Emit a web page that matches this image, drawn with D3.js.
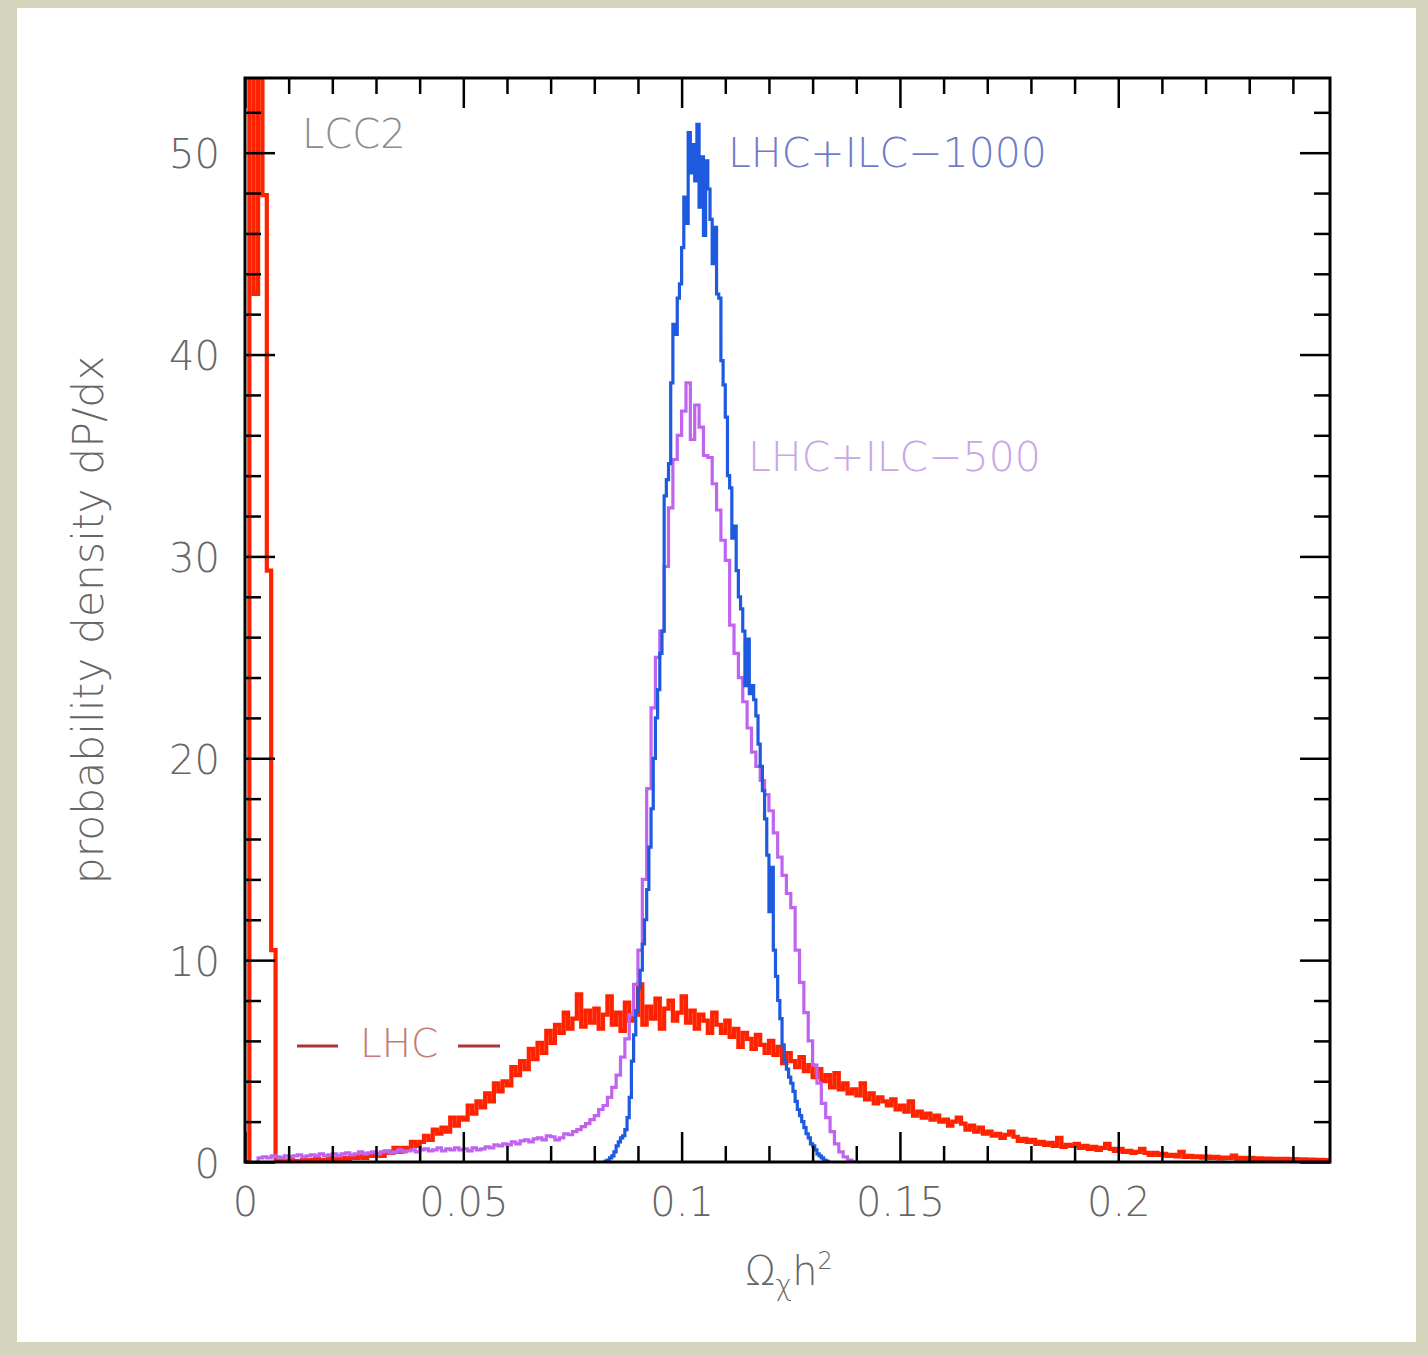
<!DOCTYPE html>
<html>
<head>
<meta charset="utf-8">
<title>LCC2 relic density</title>
<style>
  body { margin: 0; background: #d5d4bc; }
  text { font-family: "DejaVu Sans", sans-serif; }
  .tick line { stroke: #000; stroke-width: 2.5; }
  .tick text { fill: #666666; font-size: 40px; font-weight: 200; }
</style>
</head>
<body>
<svg id="chart" width="1428" height="1355"></svg>
<script src="https://d3js.org/d3.v7.min.js"></script>
<script>
// x ticks / labels
var xMajorTicks = [0, 0.05, 0.1, 0.15, 0.2];
var xTickLabels = ["0", "0.05", "0.1", "0.15", "0.2"];
var yMajorTicks = [0, 10, 20, 30, 40, 50];
var yTickLabels = ["0", "10", "20", "30", "40", "50"];

// LHC alone: bins of 0.001 starting at 0
var lhcStart = 0, lhcWidth = 0.001;
var lhcValues = [
  0, 75, 43, 68, 47.9, 29.3, 10.5,
  0, 0.05, 0, 0.1, 0.05, 0, 0.1, 0.05, 0.1, 0.15, 0.05, 0.1, 0.2, 0.1, 0.15, 0.2, 0.1, 0.25, 0.2, 0.3, 0.2, 0.35, 0.3,
  0.4, 0.3, 0.5, 0.45, 0.7, 0.5, 0.7, 0.65, 1.0, 0.8,
  1.0, 1.3, 1.1, 1.6, 1.4, 1.7, 1.5, 2.2, 1.8, 2.2,
  2.1, 2.8, 2.4, 3.0, 2.7, 3.4, 3.0, 3.9, 3.5, 4.0,
  3.8, 4.7, 4.3, 5.0, 4.6, 5.6, 5.1, 5.9, 5.4, 6.5,
  5.9, 6.8, 6.4, 7.4, 6.6, 7.1, 8.3, 6.7, 7.5, 6.9,
  7.6, 6.6, 7.3, 8.2, 6.8, 7.4, 6.5, 7.9, 7.0, 7.3,
  8.8, 6.8, 7.7, 7.1, 8.1, 6.6, 7.6, 8.0, 7.0, 7.4,
  8.2, 6.9, 7.5, 6.6, 7.3, 7.0, 6.4, 7.4, 6.8, 6.4,
  7.0, 6.2, 6.6, 5.7, 6.4, 6.1, 5.6, 6.3, 5.8, 5.4,
  6.0, 5.3, 5.7, 4.9, 5.4, 5.0, 4.7, 5.2, 4.5, 4.8,
  4.2, 4.6, 4.0, 4.3, 3.7, 4.4, 3.6, 3.9, 3.4, 3.6,
  3.3, 3.9, 3.1, 3.4, 2.9, 3.2, 3.0, 2.8, 3.1, 2.6,
  2.8, 2.5, 3.0, 2.3, 2.5, 2.2, 2.4, 2.1, 2.3, 2.0,
  2.1, 1.8, 2.0, 2.2, 1.9, 1.6, 1.8, 1.5, 1.7, 1.4,
  1.5, 1.3, 1.4, 1.2, 1.35, 1.5, 1.25, 1.05, 1.15, 1.0,
  1.1, 0.9, 1.0, 0.85, 0.95, 0.8, 1.2, 0.75, 0.85, 0.8,
  0.9, 0.7, 0.8, 0.65, 0.75, 0.6, 0.7, 0.9, 0.65, 0.55,
  0.65, 0.5, 0.55, 0.45, 0.5, 0.65, 0.45, 0.35, 0.45, 0.35,
  0.4, 0.3, 0.35, 0.28, 0.5, 0.25, 0.3, 0.24, 0.28, 0.22,
  0.27, 0.2, 0.25, 0.18, 0.22, 0.2, 0.32, 0.17, 0.2, 0.16,
  0.2, 0.15, 0.18, 0.14, 0.17, 0.13, 0.16, 0.12, 0.15, 0.11,
  0.14, 0.12, 0.13, 0.1, 0.12, 0.09, 0.11, 0.08, 0.1
];

// LHC+ILC-500: bins of 0.001 starting at 0.003
var ilc500Start = 0.003, ilc500Width = 0.001;
var ilc500Values = [
  0.2, 0.25, 0.2, 0.3, 0.25, 0.2, 0.3, 0.25, 0.3, 0.35,
  0.25, 0.3, 0.35, 0.3, 0.4, 0.3, 0.35, 0.4, 0.3, 0.4,
  0.45, 0.35, 0.4, 0.5, 0.4, 0.45, 0.5, 0.4, 0.5, 0.55,
  0.45, 0.5, 0.6, 0.5, 0.55, 0.6, 0.5, 0.6, 0.65, 0.55,
  0.6, 0.7, 0.55, 0.65, 0.6, 0.7, 0.6, 0.65, 0.55, 0.7,
  0.6, 0.65, 0.75, 0.7, 0.85, 0.8, 0.9, 0.85, 1.0, 0.9,
  1.05, 1.1, 1.0, 1.15, 1.2, 1.1, 1.3, 1.25, 1.1, 1.2,
  1.4, 1.35, 1.5, 1.6, 1.75, 1.9, 2.1, 2.3, 2.6, 2.8,
  3.2, 3.7, 4.3, 5.2, 6.1, 7.3, 8.8, 10.5, 14.0, 18.5,
  22.5, 25.0, 26.3, 29.5, 32.4, 34.8, 36.0, 37.2, 38.6, 35.8,
  37.5, 36.4, 35.0, 34.9, 33.6, 32.3, 30.8, 29.8, 26.6, 25.2,
  24.0, 22.8, 21.5, 20.3, 19.6, 18.9, 18.2, 17.4, 16.3, 15.1,
  14.2, 13.3, 12.6, 10.5, 8.9, 7.4, 6.0, 4.8, 3.9, 2.9,
  2.2, 1.5, 0.9, 0.5, 0.25, 0.1, 0
];

// LHC+ILC-1000: bins of 0.0005 starting at 0.0825
var ilc1000Start = 0.0825, ilc1000Width = 0.0005;
var ilc1000Values = [
  0.05, 0.1, 0.2, 0.3, 0.5, 0.8, 1.0, 1.2, 1.3, 1.6,
  2.2, 3.2, 5.0, 6.3, 7.5, 8.6, 9.5, 10.8, 12.0, 13.5,
  15.6, 17.5, 20.0, 22.0, 23.4, 25.2, 26.3, 33.0, 33.8, 34.6,
  38.6, 41.5, 41.0, 42.8, 43.5, 45.3, 47.8, 46.5, 51.0, 49.0,
  50.4, 48.6, 51.4, 47.3, 49.8, 45.9, 49.6, 48.2, 46.7, 44.5,
  46.3, 43.0, 42.8, 39.7, 38.5, 36.9, 34.0, 33.4, 30.9, 31.5,
  29.3, 28.0, 27.4, 26.3, 23.6, 25.9, 23.2, 23.6, 22.9, 22.1,
  20.7, 19.6, 18.4, 17.0, 15.2, 12.4, 14.6, 10.5, 9.2, 8.0,
  7.1, 5.8, 5.0, 4.6, 4.2, 3.9, 3.5, 3.0, 2.6, 2.3,
  2.0, 1.7, 1.4, 1.2, 0.9, 0.8, 0.6, 0.4, 0.3, 0.2,
  0.1, 0.05, 0
];

var svg = d3.select('#chart');

// white sheet on the beige background
svg.append('rect')
  .attr('x', 17).attr('y', 8)
  .attr('width', 1399).attr('height', 1334)
  .attr('fill', '#ffffff');

var pLeft = 245, pRight = 1330, pTop = 78, pBottom = 1162;

var x = d3.scaleLinear().domain([0, 0.2485]).range([pLeft, pRight]);
var y = d3.scaleLinear().domain([0, 53.7]).range([pBottom, pTop]);

svg.append('clipPath').attr('id', 'plotclip')
  .append('rect')
  .attr('x', pLeft).attr('y', pTop)
  .attr('width', pRight - pLeft).attr('height', pBottom - pTop);

function steps(start, width, values) {
  var pts = [[start, 0]];
  values.forEach(function(v, i) { pts.push([start + i * width, v]); });
  pts.push([start + values.length * width, 0]);
  return pts;
}

var line = d3.line()
  .x(function(d) { return x(d[0]); })
  .y(function(d) { return y(d[1]); })
  .curve(d3.curveStepAfter);

var plot = svg.append('g').attr('clip-path', 'url(#plotclip)');

var series = [
  { name: 'LHC', pts: steps(lhcStart, lhcWidth, lhcValues), color: '#ff2200', w: 4.2 },
  { name: 'LHC+ILC-500', pts: steps(ilc500Start, ilc500Width, ilc500Values), color: '#c064f0', w: 3.2 },
  { name: 'LHC+ILC-1000', pts: steps(ilc1000Start, ilc1000Width, ilc1000Values), color: '#1e5ae0', w: 3.2 }
];

plot.selectAll('.hist')
  .data(series)
  .enter()
  .append('path')
  .classed('hist', true)
  .attr('d', function(d) { return line(d.pts); })
  .attr('fill', 'none')
  .attr('stroke', function(d) { return d.color; })
  .attr('stroke-width', function(d) { return d.w; })
  .attr('stroke-linejoin', 'miter');

// ticks, all pointing inside
var xMinor = d3.range(1, 25).filter(function(i) { return i % 5 != 0; }).map(function(i) { return i / 100; });
var yMinor = d3.range(2, 54, 2).filter(function(v) { return v % 10 != 0; });

function noDomain(g) { g.select('.domain').remove(); }

svg.append('g').attr('transform', 'translate(0,' + pBottom + ')')
  .call(d3.axisBottom(x).tickValues(xMajorTicks).tickSize(-30).tickPadding(26)
    .tickFormat(function(d, i) { return xTickLabels[i]; }))
  .call(noDomain);
svg.append('g').attr('transform', 'translate(0,' + pBottom + ')')
  .call(d3.axisBottom(x).tickValues(xMinor).tickSize(-16).tickFormat(''))
  .call(noDomain);
svg.append('g').attr('transform', 'translate(0,' + pTop + ')')
  .call(d3.axisTop(x).tickValues(xMajorTicks).tickSize(-30).tickFormat(''))
  .call(noDomain);
svg.append('g').attr('transform', 'translate(0,' + pTop + ')')
  .call(d3.axisTop(x).tickValues(xMinor).tickSize(-16).tickFormat(''))
  .call(noDomain);

svg.append('g').attr('transform', 'translate(' + pLeft + ',0)')
  .call(d3.axisLeft(y).tickValues(yMajorTicks).tickSize(-30).tickPadding(25)
    .tickFormat(function(d, i) { return yTickLabels[i]; }))
  .call(noDomain)
  .selectAll('text').attr('dy', '0.38em');
svg.append('g').attr('transform', 'translate(' + pLeft + ',0)')
  .call(d3.axisLeft(y).tickValues(yMinor).tickSize(-16).tickFormat(''))
  .call(noDomain);
svg.append('g').attr('transform', 'translate(' + pRight + ',0)')
  .call(d3.axisRight(y).tickValues(yMajorTicks).tickSize(-30).tickFormat(''))
  .call(noDomain);
svg.append('g').attr('transform', 'translate(' + pRight + ',0)')
  .call(d3.axisRight(y).tickValues(yMinor).tickSize(-16).tickFormat(''))
  .call(noDomain);

// frame
svg.append('rect')
  .attr('x', pLeft).attr('y', pTop)
  .attr('width', pRight - pLeft).attr('height', pBottom - pTop)
  .attr('fill', 'none').attr('stroke', '#000').attr('stroke-width', 3);

// axis titles
svg.append('text')
  .attr('transform', 'translate(103,620) rotate(-90)')
  .attr('text-anchor', 'middle')
  .attr('fill', '#666666').attr('font-size', 42.5).attr('font-weight', 200)
  .text('probability density dP/dx');

var xt = svg.append('text')
  .attr('x', 745).attr('y', 1285)
  .attr('fill', '#666666').attr('font-size', 40).attr('font-weight', 200);
xt.append('tspan').text('Ω');
xt.append('tspan').attr('font-size', 28).attr('dy', 10).text('χ');
xt.append('tspan').attr('dy', -10).text('h');
xt.append('tspan').attr('font-size', 24).attr('dy', -16).text('2');

// labels in the plot
svg.append('text').attr('x', 302).attr('y', 148)
  .attr('fill', '#8c8c8c').attr('font-size', 40).attr('font-weight', 200)
  .text('LCC2');
svg.append('text').attr('x', 728).attr('y', 167)
  .attr('fill', '#6e7cc8').attr('font-size', 41).attr('font-weight', 200)
  .text('LHC+ILC\u22121000');
svg.append('text').attr('x', 748).attr('y', 471)
  .attr('fill', '#c9a6e6').attr('font-size', 41).attr('font-weight', 200)
  .text('LHC+ILC\u2212500');
svg.append('text').attr('x', 360).attr('y', 1057)
  .attr('fill', '#c47a7a').attr('font-size', 39).attr('font-weight', 200)
  .text('LHC');
svg.selectAll('.legdash')
  .data([[297, 338], [458, 500]])
  .enter()
  .append('line')
  .classed('legdash', true)
  .attr('x1', function(d) { return d[0]; })
  .attr('x2', function(d) { return d[1]; })
  .attr('y1', 1046).attr('y2', 1046)
  .attr('stroke', '#a8353a').attr('stroke-width', 3);
</script>
</body>
</html>
